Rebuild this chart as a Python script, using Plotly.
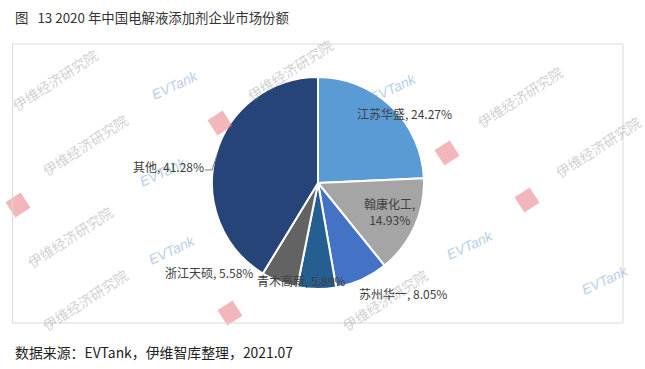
import plotly.graph_objects as go
import math

W, H = 645, 369

companies = ["江苏华盛", "翰康化工", "苏州华一", "青木高新", "浙江天硕", "其他"]
shares = [24.27, 14.93, 8.05, 5.89, 5.58, 41.28]
colors = ["#5B9BD5", "#A5A5A5", "#4472C4", "#255E91", "#636363", "#264478"]

title_text = "图&nbsp;&nbsp;&nbsp;13 2020 年中国电解液添加剂企业市场份额"
source_text = "数据来源：EVTank，伊维智库整理，2021.07"
wm_text = "伊维经济研究院"
wm_logo = "EVTank"

cx, cy, r = 318, 183, 106  # pixel geometry of the pie


def px(x):
    return x / W


def py(y):
    return 1 - y / H


fig = go.Figure()
fig.add_trace(go.Pie(
    labels=companies,
    values=shares,
    sort=False,
    direction="clockwise",
    rotation=0,
    marker=dict(colors=colors, line=dict(color="white", width=2)),
    textinfo="none",
    hoverinfo="label+percent",
    showlegend=False,
    domain=dict(x=[px(cx - r), px(cx + r)], y=[py(cy + r), py(cy - r)]),
))

annotations = []
shapes = []

# ---- watermarks (drawn faint) ----
wm_text_pos = [(55, 80), (85, 145), (290, 70), (520, 97), (598, 147), (70, 237), (85, 300), (385, 300)]
for (x, y) in wm_text_pos:
    annotations.append(dict(x=px(x), y=py(y), xref="paper", yref="paper", text=wm_text,
                            showarrow=False, textangle=-33, opacity=0.4,
                            xanchor="center", yanchor="middle",
                            font=dict(size=14, color="#8C8C8C", family="Noto Sans CJK SC")))
stamp_pos = [(220, 123), (447, 153), (527, 200), (230, 313), (18, 205)]
s = 9
ang = math.radians(-33)
for (x, y) in stamp_pos:
    pts = []
    for (ux, uy) in [(-s, -s), (s, -s), (s, s), (-s, s)]:
        rx = x + ux * math.cos(ang) - uy * math.sin(ang)
        ry = y + ux * math.sin(ang) + uy * math.cos(ang)
        pts.append((px(rx), py(ry)))
    path = "M " + " L ".join(f"{a},{b}" for a, b in pts) + " Z"
    shapes.append(dict(type="path", xref="paper", yref="paper", path=path,
                       fillcolor="rgba(232,110,120,0.5)", line=dict(width=0), layer="above"))
logo_pos = [(175, 85), (163, 172), (172, 250), (393, 88), (470, 245), (605, 280)]
for (x, y) in logo_pos:
    annotations.append(dict(x=px(x), y=py(y), xref="paper", yref="paper", text=f"<i>{wm_logo}</i>",
                            showarrow=False, textangle=-25, opacity=0.5,
                            xanchor="center", yanchor="middle",
                            font=dict(size=14, color="#6FA0D0", family="Liberation Sans")))

# ---- data labels ----
label_px = [(404, 113), (389, 211), (403, 293), (301, 280), (209, 272), (168, 166)]
two_line = [False, True, False, False, False, False]
for name, v, (x, y), two in zip(companies, shares, label_px, two_line):
    txt = f"{name},<br>{v:.2f}%" if two else f"{name}, {v:.2f}%"
    annotations.append(dict(
        x=px(x), y=py(y), xref="paper", yref="paper",
        text=txt, showarrow=False, xanchor="center", yanchor="middle",
        font=dict(size=12, color="#404040", family="Noto Sans CJK SC"),
    ))

annotations.append(dict(x=px(13), y=py(17), xref="paper", yref="paper", text=title_text,
                        showarrow=False, xanchor="left", yanchor="middle",
                        font=dict(size=13.4, color="#333333", family="Noto Sans CJK SC")))
annotations.append(dict(x=px(13), y=py(352), xref="paper", yref="paper", text=source_text,
                        showarrow=False, xanchor="left", yanchor="middle",
                        font=dict(size=13.9, color="#222222", family="Noto Sans CJK SC")))

shapes += [
    dict(type="rect", xref="paper", yref="paper", x0=px(12.5), x1=px(623),
         y0=py(323), y1=py(44), line=dict(color="#D9D9D9", width=1)),
    # leader line for 其他
    dict(type="path", xref="paper", yref="paper",
         path=f"M {px(205)},{py(170)} L {px(212)},{py(170)} L {px(217)},{py(155)}",
         line=dict(color="#7F7F7F", width=1)),
]

fig.update_layout(
    width=W, height=H,
    margin=dict(l=0, r=0, t=0, b=0),
    paper_bgcolor="white", plot_bgcolor="white",
    annotations=annotations, shapes=shapes,
)
fig.write_html("out.html")
